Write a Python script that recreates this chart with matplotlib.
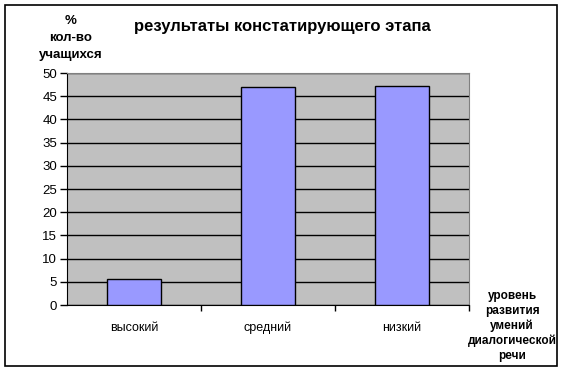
import matplotlib
matplotlib.use("Agg")
import matplotlib.pyplot as plt
from matplotlib.patches import Rectangle

plt.rcParams["font.family"] = ["Liberation Sans", "DejaVu Sans"]

categories = ["высокий", "средний", "низкий"]
values = [5.5, 47.0, 47.1]
y_ticks = list(range(0, 51, 5))

fig = plt.figure(figsize=(5.65, 3.72), dpi=100)
W, H = 565, 372
ax = fig.add_axes([67 / W, 1 - 305 / H, (469 - 67) / W, (305 - 73) / H])

ax.set_facecolor("#C0C0C0")
ax.set_axisbelow(True)
ax.yaxis.grid(True, color="black", linewidth=1.0)

x = range(len(categories))
ax.bar(x, values, width=0.4, color="#9999FF", edgecolor="black", linewidth=1.0, zorder=3)

ax.set_xlim(-0.5, len(categories) - 0.5)
ax.set_ylim(0, 50)
ax.set_yticks(y_ticks)
ax.tick_params(axis="y", direction="out", length=5, width=1, labelsize=9.5, pad=2)

ax.set_xticks(list(x))
ax.set_xticklabels(categories)
ax.tick_params(axis="x", length=0, labelsize=9, pad=12)
ax.set_xticks([0.5, 1.5, 2.5], minor=True)
ax.tick_params(axis="x", which="minor", direction="out", length=4, width=1)

for side in ["top", "right"]:
    ax.spines[side].set_color("#808080")
for side in ["left", "bottom"]:
    ax.spines[side].set_color("black")

fig.text(282 / W, 1 - 27 / H, "результаты констатирующего этапа", ha="center", va="center",
         fontsize=12, fontweight="bold")
fig.text(71 / W, 1 - 38 / H, "%\nкол-во\nучащихся", ha="center", va="center",
         fontsize=9.5, fontweight="bold", linespacing=1.55)
fig.text(512 / W, 1 - 326 / H, "уровень\nразвития\nумений\nдиалогической\nречи", ha="center",
         va="center", fontsize=8.5, fontweight="bold", linespacing=1.3)

fig.patches.append(Rectangle((5 / W, 1 - 366 / H), 552 / W, 361 / H, transform=fig.transFigure,
                             fill=False, edgecolor="black", linewidth=1.2))

fig.savefig("out.png", dpi=100)
